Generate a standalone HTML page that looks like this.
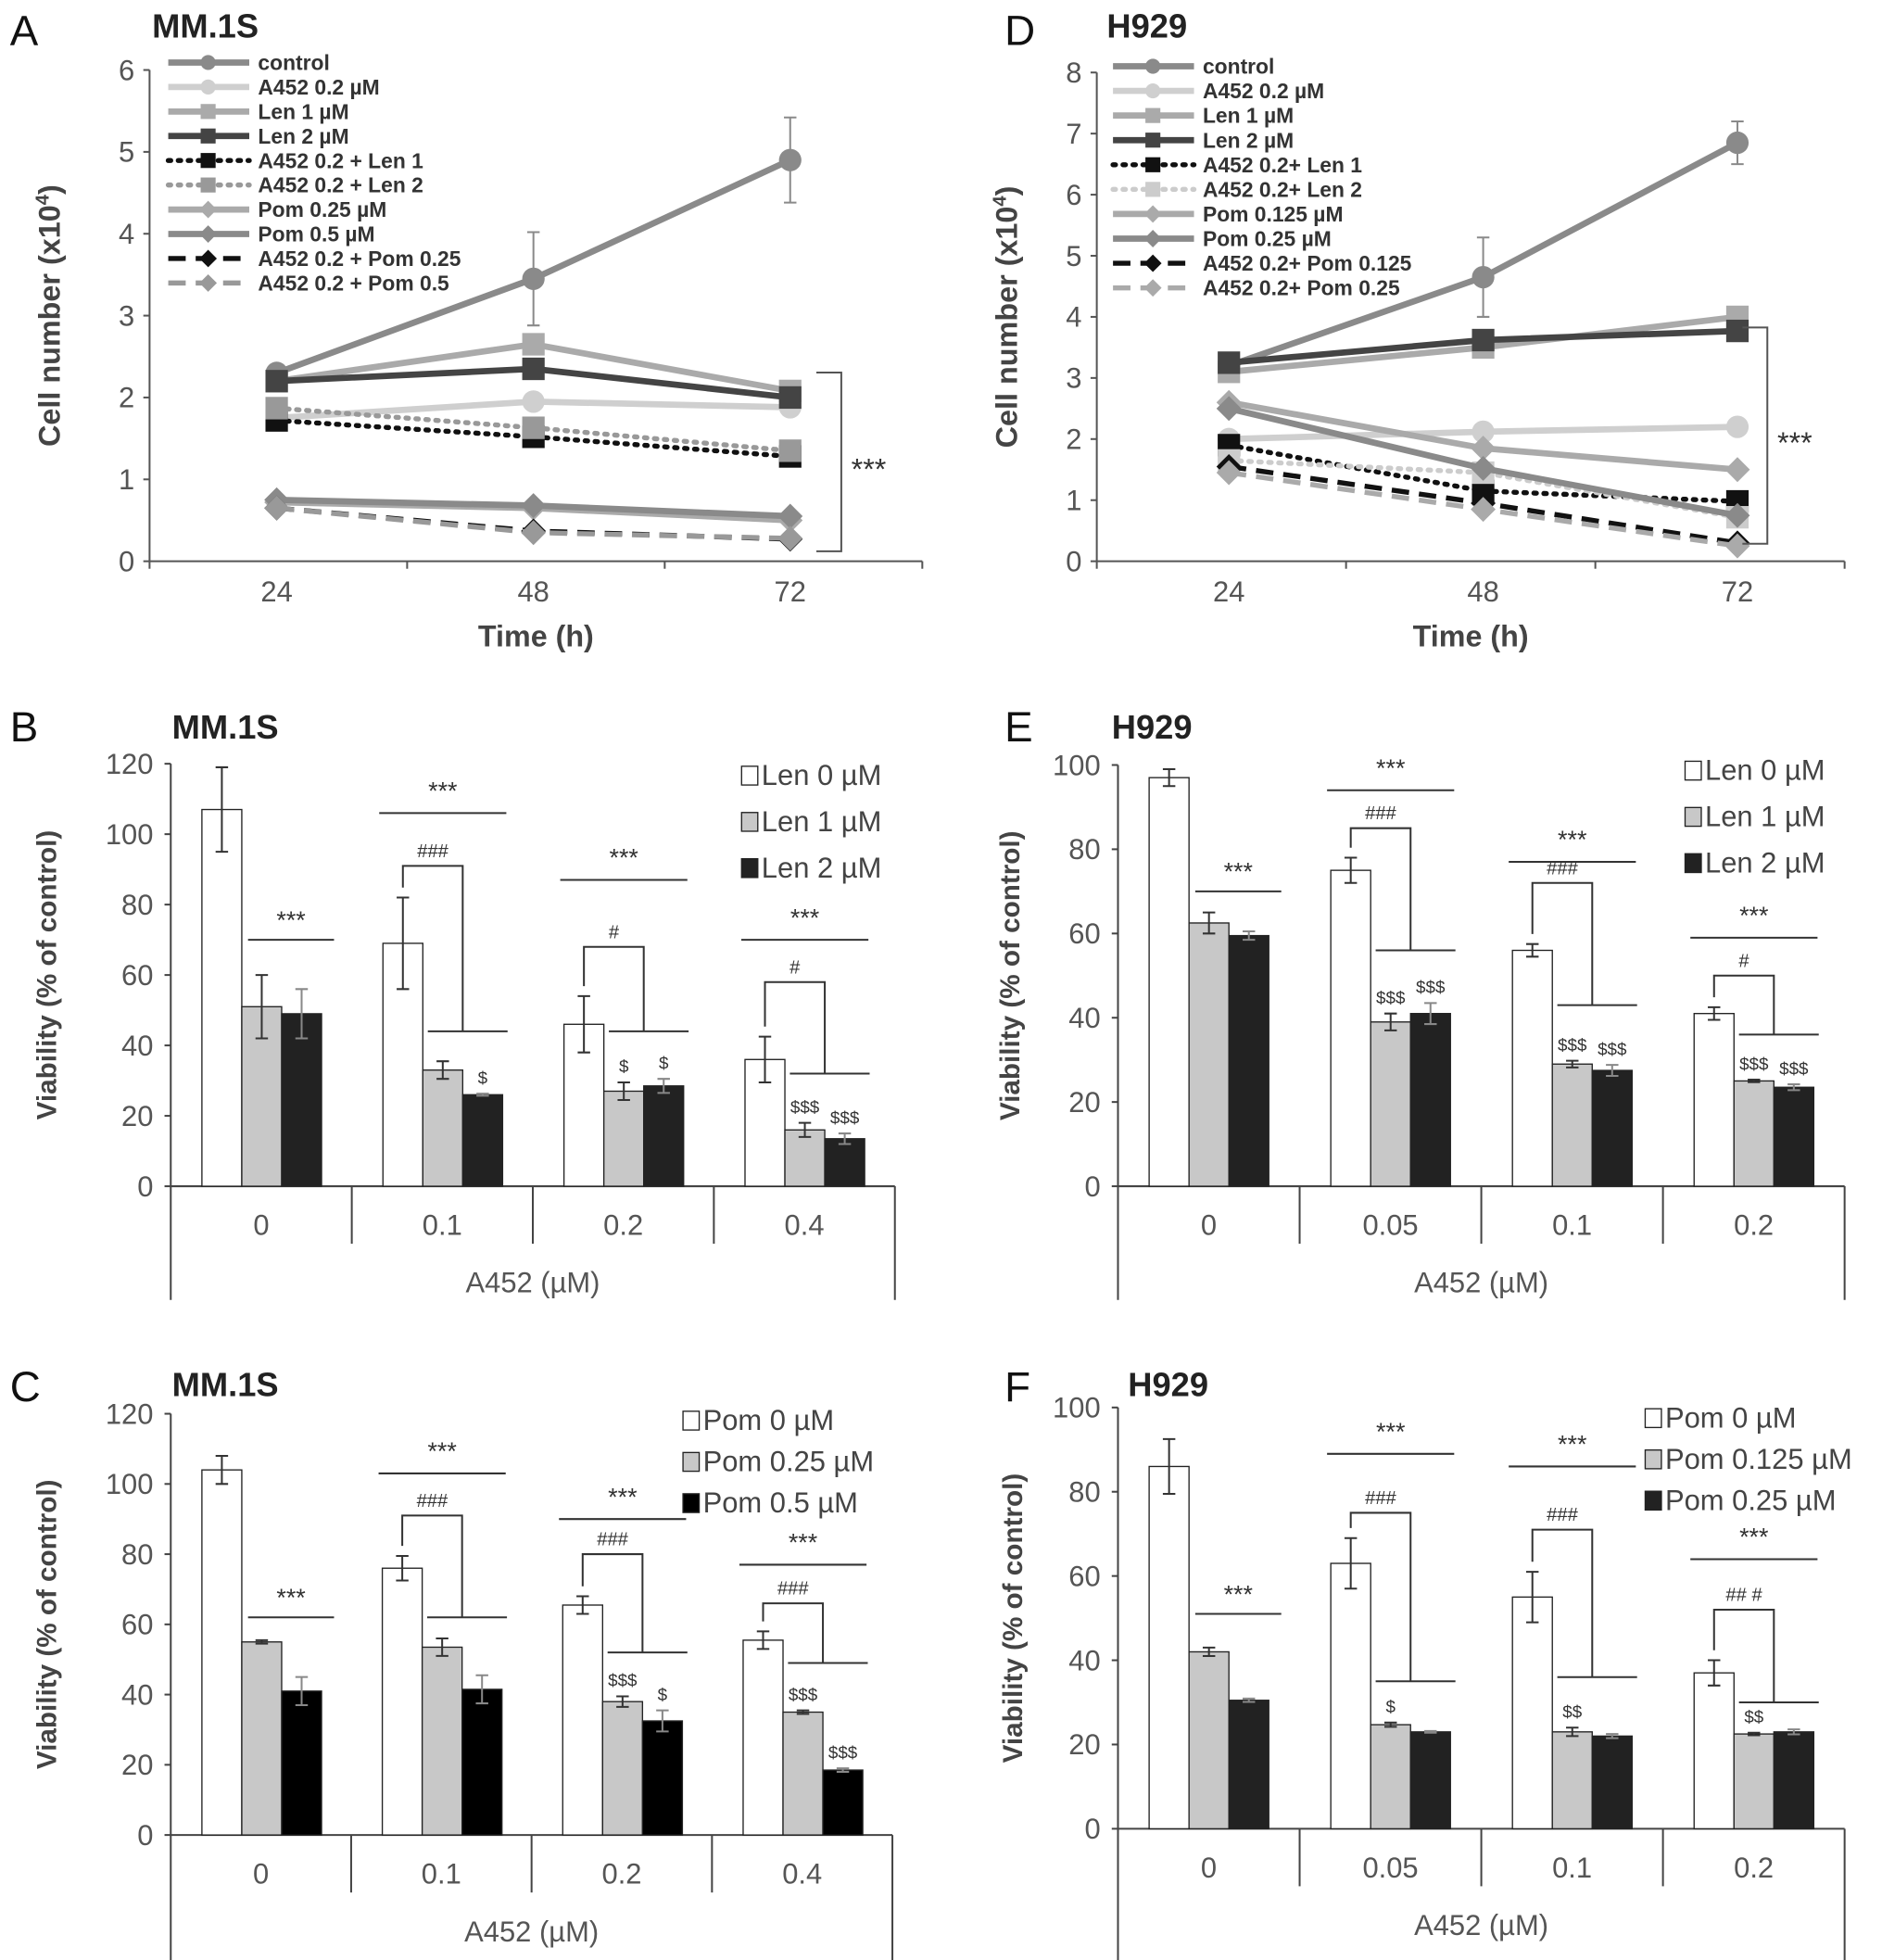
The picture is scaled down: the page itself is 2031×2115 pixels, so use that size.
<!DOCTYPE html>
<html><head><meta charset="utf-8">
<style>
html,body{margin:0;padding:0;background:#fff;}
svg{display:block;}
text{font-family:"Liberation Sans",sans-serif;}
</style></head>
<body>
<svg id="fig" width="2031" height="2115" viewBox="0 0 1510 1568" preserveAspectRatio="none" xmlns="http://www.w3.org/2000/svg">
<g id="root"></g>
</svg>
<script>
// ---------- Line chart data ----------
const timeCats = ['24','48','72'];
const aNames = ['control','A452 0.2 µM','Len 1 µM','Len 2 µM','A452 0.2 + Len 1','A452 0.2 + Len 2','Pom 0.25 µM','Pom 0.5 µM','A452 0.2 + Pom 0.25','A452 0.2 + Pom 0.5'];
const aControl = [2.3,3.45,4.9];
const aA452 = [1.75,1.95,1.88];
const aLen1 = [2.2,2.65,2.08];
const aLen2 = [2.2,2.35,2.0];
const aALen1 = [1.72,1.52,1.28];
const aALen2 = [1.87,1.63,1.35];
const aPom1 = [0.72,0.65,0.5];
const aPom2 = [0.75,0.68,0.55];
const aAPom1 = [0.65,0.37,0.27];
const aAPom2 = [0.65,0.35,0.28];
const aControlErr = [0.05,0.57,0.52];
const aYTicks = ['0','1','2','3','4','5','6'];

const dNames = ['control','A452 0.2 µM','Len 1 µM','Len 2 µM','A452 0.2+ Len 1','A452 0.2+ Len 2','Pom  0.125 µM','Pom  0.25 µM','A452 0.2+ Pom 0.125','A452 0.2+ Pom 0.25'];
const dControl = [3.2,4.65,6.85];
const dA452 = [2.0,2.12,2.2];
const dLen1 = [3.1,3.5,4.0];
const dLen2 = [3.25,3.62,3.77];
const dALen1 = [1.9,1.15,0.98];
const dALen2 = [1.65,1.45,0.72];
const dPom1 = [2.6,1.85,1.5];
const dPom2 = [2.5,1.52,0.75];
const dAPom1 = [1.55,0.95,0.3];
const dAPom2 = [1.45,0.85,0.25];
const dControlErr = [0.1,0.65,0.35];
const dYTicks = ['0','1','2','3','4','5','6','7','8'];

// ---------- Bar chart data ----------
const a452B = ['0','0.1','0.2','0.4'];
const bLen0 = [107,69,46,36];
const bLen1 = [51,33,27,16];
const bLen2 = [49,26,28.5,13.5];
const bLen0Err = [12,13,8,6.5];
const bLen1Err = [9,2.5,2.5,2];
const bLen2Err = [7,0.3,2,1.5];
const bYTicks = ['0','20','40','60','80','100','120'];

const a452C = ['0','0.1','0.2','0.4'];
const cPom0 = [104,76,65.5,55.5];
const cPom1 = [55,53.5,38,35];
const cPom2 = [41,41.5,32.5,18.5];
const cPom0Err = [4,3.5,2.5,2.5];
const cPom1Err = [0.5,2.5,1.5,0.5];
const cPom2Err = [4,4,3,0.5];
const cYTicks = ['0','20','40','60','80','100','120'];

const a452E = ['0','0.05','0.1','0.2'];
const eLen0 = [97,75,56,41];
const eLen1 = [62.5,39,29,25];
const eLen2 = [59.5,41,27.5,23.5];
const eLen0Err = [2,3,1.5,1.5];
const eLen1Err = [2.5,2,0.8,0.3];
const eLen2Err = [1,2.5,1.3,0.7];
const eYTicks = ['0','20','40','60','80','100'];

const a452F = ['0','0.05','0.1','0.2'];
const fPom0 = [86,63,55,37];
const fPom1 = [42,24.7,23,22.5];
const fPom2 = [30.5,23,22,23];
const fPom0Err = [6.5,6,6,3];
const fPom1Err = [1,0.5,1,0.3];
const fPom2Err = [0.4,0.2,0.5,0.6];
const fYTicks = ['0','20','40','60','80','100'];

const NS='http://www.w3.org/2000/svg';
const root=document.getElementById('root');
function mk(tag,attrs,parent,txt){const e=document.createElementNS(NS,tag);for(const k in attrs)e.setAttribute(k,attrs[k]);if(txt!==undefined)e.textContent=txt;(parent||root).appendChild(e);return e;}
function grp(name,parent){const g=document.createElementNS(NS,'g');


(parent||root).appendChild(g);return g;}
function txt(parent,x,y,s,attrs,name){const t=mk('text',Object.assign({x:x,y:y},attrs||{}),parent,s);


return t;}

function header(letter,lx,ly,title,tx,ty){
  const g=grp('panel-'+letter.toLowerCase()+'-header');
  txt(g,lx,ly,letter,{'font-size':34,fill:'#111'},'panel-letter');
  txt(g,tx,ty,title,{'font-size':27,'font-weight':'bold',fill:'#222'},'panel-title');
}

function lineChart(cfg){
  const g=grp(cfg.name);
  const ax=cfg.x0, y0=cfg.y0, yTop=cfg.yTop, ymax=cfg.yTicks.length-1;
  const ys=v=>y0-(v/ymax)*(y0-yTop);
  const xs=i=>cfg.xc[0]+i*(cfg.xc[1]-cfg.xc[0]);
  const axes=grp('axes',g);
  mk('line',{x1:ax,y1:yTop,x2:ax,y2:y0,stroke:'#555','stroke-width':1.5},axes);
  mk('line',{x1:ax,y1:y0,x2:cfg.xEnd,y2:y0,stroke:'#555','stroke-width':1.5},axes);
  cfg.yTicks.forEach((t,i)=>{const y=ys(+t);mk('line',{x1:ax-5,y1:y,x2:ax,y2:y,stroke:'#555','stroke-width':1.5},axes);
    txt(axes,ax-12,y+8,t,{'font-size':23,fill:'#555','text-anchor':'end'},'y-tick-label');});
  const step=(cfg.xEnd-ax)/3;
  for(let k=0;k<=3;k++){mk('line',{x1:ax+k*step,y1:y0,x2:ax+k*step,y2:y0+6,stroke:'#555','stroke-width':1.5},axes);}
  timeCats.forEach((c,i)=>txt(axes,xs(i),y0+32,c,{'font-size':23,fill:'#555','text-anchor':'middle'},'x-tick-label'));
  txt(axes,(ax+cfg.xEnd)/2,y0+68,'Time (h)',{'font-size':24,fill:'#444','text-anchor':'middle','font-weight':'bold'},'x-axis-title');
  const yl=txt(axes,0,0,'',{'font-size':24,fill:'#444','text-anchor':'middle','font-weight':'bold',transform:`translate(${cfg.yLabX},${(yTop+y0)/2}) rotate(-90)`},'y-axis-title');
  yl.textContent='Cell number (x10';mk('tspan',{'font-size':15,dy:-9},yl,'4');mk('tspan',{dy:9},yl,')');
  cfg.series.forEach((s,si)=>{
    const sg=grp('series-'+si,g);
    let d='';s.v.forEach((v,i)=>{d+=(i?'L':'M')+xs(i)+' '+ys(v);});
    mk('path',{d:d,fill:'none',stroke:s.c,'stroke-width':s.w||5,'stroke-dasharray':s.dash||'','stroke-linecap':s.dash==='2 6'?'round':'butt'},sg);
    if(s.err){s.v.forEach((v,i)=>{const e=s.err[i];mk('path',{d:`M${xs(i)} ${ys(v+e)}V${ys(v-e)}M${xs(i)-5} ${ys(v+e)}h10M${xs(i)-5} ${ys(v-e)}h10`,stroke:s.c,'stroke-width':1.5,fill:'none'},sg);});}
    s.v.forEach((v,i)=>marker(sg,s.m,xs(i),ys(v),s.mc||s.c,s.ms||9));
  });
  const lg=grp('legend',g);
  cfg.series.forEach((s,i)=>{
    const y=cfg.legY+i*cfg.legStep;const le=grp('legend-entry',lg);
    mk('line',{x1:cfg.legX,y1:y,x2:cfg.legX+65,y2:y,stroke:s.c,'stroke-width':s.w||5,'stroke-dasharray':s.dash||'','stroke-linecap':s.dash==='2 6'?'round':'butt'},le);
    marker(le,s.m,cfg.legX+32,y,s.mc||s.c,6);
    txt(le,cfg.legX+72,y+6,cfg.names[i],{'font-size':17,fill:'#333','font-weight':'bold'},'legend-label');
  });
  const bg=grp('significance-bracket',g);
  mk('path',{d:`M${cfg.br[0]} ${cfg.br[1]}H${cfg.br[0]+20}V${cfg.br[2]}H${cfg.br[0]}`,fill:'none',stroke:'#555','stroke-width':1.5},bg);
  txt(bg,cfg.br[0]+28,(cfg.br[1]+cfg.br[2])/2+14,'***',{'font-size':24,fill:'#333'},'significance-label');
}
function marker(p,m,x,y,c,r){
  if(m==='o')mk('circle',{cx:x,cy:y,r:r,fill:c},p);
  else if(m==='s')mk('rect',{x:x-r,y:y-r,width:2*r,height:2*r,fill:c},p);
  else mk('path',{d:`M${x} ${y-r-1}L${x+r+1} ${y}L${x} ${y+r+1}L${x-r-1} ${y}Z`,fill:c},p);
}

header('A',8,36,'MM.1S',122,30);
lineChart({name:'panel-a-line-chart',x0:120,y0:449,yTop:56,xEnd:740,xc:[222,428],yTicks:aYTicks,yLabX:48,names:aNames,legX:135,legY:50,legStep:19.6,br:[655,298,441],
 series:[
  {v:aControl,c:'#8a8a8a',m:'o',err:aControlErr},
  {v:aA452,c:'#cfcfcf',m:'o'},
  {v:aLen1,c:'#aaaaaa',m:'s'},
  {v:aLen2,c:'#444',m:'s'},
  {v:aALen1,c:'#111',m:'s',dash:'2 6',w:4},
  {v:aALen2,c:'#999',m:'s',dash:'2 6',w:4},
  {v:aPom1,c:'#aaaaaa',m:'d'},
  {v:aPom2,c:'#8a8a8a',m:'d'},
  {v:aAPom1,c:'#111',m:'d',dash:'14 8',w:4},
  {v:aAPom2,c:'#999',m:'d',dash:'14 8',w:4}
 ]});

header('D',806,36,'H929',888,30);
lineChart({name:'panel-d-line-chart',x0:880,y0:449,yTop:58,xEnd:1480,xc:[986,1190],yTicks:dYTicks,yLabX:816,names:dNames,legX:893,legY:53,legStep:19.7,br:[1398,262,435],
 series:[
  {v:dControl,c:'#8a8a8a',m:'o',err:dControlErr},
  {v:dA452,c:'#cfcfcf',m:'o'},
  {v:dLen1,c:'#aaaaaa',m:'s'},
  {v:dLen2,c:'#444',m:'s'},
  {v:dALen1,c:'#111',m:'s',dash:'2 6',w:4},
  {v:dALen2,c:'#ccc',m:'s',dash:'2 6',w:4},
  {v:dPom1,c:'#aaaaaa',m:'d'},
  {v:dPom2,c:'#8a8a8a',m:'d'},
  {v:dAPom1,c:'#111',m:'d',dash:'14 8',w:4},
  {v:dAPom2,c:'#aaa',m:'d',dash:'14 8',w:4}
 ]});

function barChart(cfg){
  const g=grp(cfg.name);
  const ax=cfg.x0,y0=cfg.y0,yTop=cfg.yTop,ymax=+cfg.yTicks[cfg.yTicks.length-1];
  const ys=v=>y0-(v/ymax)*(y0-yTop);
  const gw=(cfg.xEnd-ax)/4, bw=32;
  const bx=(gi,b)=>ax+gi*gw+25+b*bw;
  const axes=grp('axes',g);
  mk('line',{x1:ax,y1:yTop,x2:ax,y2:cfg.bottom,stroke:'#444','stroke-width':1.5},axes);
  mk('line',{x1:ax,y1:y0,x2:cfg.xEnd,y2:y0,stroke:'#444','stroke-width':1.5},axes);
  mk('line',{x1:cfg.xEnd,y1:y0,x2:cfg.xEnd,y2:cfg.bottom,stroke:'#444','stroke-width':1.5},axes);
  for(let k=1;k<4;k++)mk('line',{x1:ax+k*gw,y1:y0,x2:ax+k*gw,y2:y0+46,stroke:'#444','stroke-width':1.5},axes);
  cfg.yTicks.forEach(t=>{const y=ys(+t);mk('line',{x1:ax-5,y1:y,x2:ax,y2:y,stroke:'#444','stroke-width':1.5},axes);
    txt(axes,ax-14,y+8,t,{'font-size':23,fill:'#555','text-anchor':'end'},'y-tick-label');});
  cfg.cats.forEach((c,i)=>txt(axes,ax+i*gw+gw/2,y0+39,c,{'font-size':23,fill:'#555','text-anchor':'middle'},'x-tick-label'));
  txt(axes,(ax+cfg.xEnd)/2,y0+85,'A452 (µM)',{'font-size':23,fill:'#555','text-anchor':'middle'},'x-axis-title');
  txt(axes,0,0,'Viability (% of control)',{'font-size':22,fill:'#444','text-anchor':'middle','font-weight':'bold',transform:`translate(${cfg.yLabX},${(yTop+y0)/2}) rotate(-90)`},'y-axis-title');
  const fills=['#fff','#c8c8c8',cfg.dark];
  cfg.series.forEach((s,b)=>{
    const sg=grp('series-'+b,g);
    s.v.forEach((v,i)=>{
      const r=mk('rect',{x:bx(i,b),y:ys(v),width:bw,height:y0-ys(v),fill:fills[b],stroke:'#222','stroke-width':1},sg);
      
      
      const e=s.e[i],cx=bx(i,b)+bw/2;
      mk('path',{d:`M${cx} ${ys(v+e)}V${ys(Math.max(v-e,0))}M${cx-5} ${ys(v+e)}h10M${cx-5} ${ys(Math.max(v-e,0))}h10`,stroke:b===2?'#888':'#333','stroke-width':1.5,fill:'none'},sg);
    });
  });
  const lg=grp('legend',g);
  cfg.legNames.forEach((n,i)=>{const y=cfg.legY+i*cfg.legStep;const le=grp('legend-entry',lg);
    mk('rect',{x:cfg.legX,y:y-14,width:13,height:15,fill:fills[i],stroke:'#222','stroke-width':1},le);
    txt(le,cfg.legX+16,y+1,n,{'font-size':23,fill:'#444'},'legend-label');});
  const an=grp('significance-annotations',g);
  const A=cfg.ann;
  {const x1=bx(0,1)+5,x2=bx(0,2)+bw+10,y=ys(A.star0);
   mk('line',{x1:x1,y1:y,x2:x2,y2:y,stroke:'#333','stroke-width':1.5},an);
   txt(an,(x1+x2)/2,y-9,'***',{'font-size':20,fill:'#333','text-anchor':'middle'},'significance-label');}
  for(let i=1;i<4;i++){
    const sy=ys(A.star[i-1]),x1=bx(i,0)-3,x2=bx(i,2)+bw+3;
    mk('line',{x1:x1,y1:sy,x2:x2,y2:sy,stroke:'#333','stroke-width':1.5},an);
    txt(an,(x1+x2)/2,sy-11,'***',{'font-size':20,fill:'#333','text-anchor':'middle'},'significance-label');
    const wc=bx(i,0)+bw/2,hy=ys(A.hash[i-1]),ly=ys(A.low[i-1]),wt=ys(cfg.series[0].v[i]+cfg.series[0].e[i])-8,hx=bx(i,2);
    mk('path',{d:`M${wc} ${wt}V${hy}H${hx}V${ly}`,fill:'none',stroke:'#333','stroke-width':1.5},an);
    mk('line',{x1:bx(i,1)+4,y1:ly,x2:bx(i,2)+bw+4,y2:ly,stroke:'#333','stroke-width':1.5},an);
    txt(an,(wc+hx)/2,hy-7,A.hashLab[i-1],{'font-size':15,fill:'#333','text-anchor':'middle'},'significance-label');
    [1,2].forEach(b=>{const lab=A.dol[(i-1)*2+b-1];if(!lab)return;const s=cfg.series[b];
      txt(an,bx(i,b)+bw/2,ys(s.v[i]+s.e[i])-8,lab,{'font-size':14,fill:'#333','text-anchor':'middle'},'significance-label');});
  }
}

header('B',8,593,'MM.1S',138,591);
barChart({name:'panel-b-bar-chart',x0:137,y0:949,yTop:611,xEnd:718,bottom:1040,cats:a452B,yTicks:bYTicks,yLabX:45,dark:'#222',
 series:[{v:bLen0,e:bLen0Err},{v:bLen1,e:bLen1Err},{v:bLen2,e:bLen2Err}],
 legNames:['Len  0 µM','Len 1 µM','Len 2 µM'],legX:595,legY:627,legStep:37,
 ann:{star0:70,star:[106,87,70],hash:[91,68,58],low:[44,44,32],hashLab:['###','#','#'],dol:['','$','$','$','$$$','$$$']}});

header('C',8,1121,'MM.1S',138,1117);
barChart({name:'panel-c-bar-chart',x0:137,y0:1468,yTop:1131,xEnd:716,bottom:1568,cats:a452C,yTicks:cYTicks,yLabX:45,dark:'#000',
 series:[{v:cPom0,e:cPom0Err},{v:cPom1,e:cPom1Err},{v:cPom2,e:cPom2Err}],
 legNames:['Pom  0 µM','Pom 0.25 µM','Pom 0.5 µM'],legX:548,legY:1143,legStep:33,
 ann:{star0:62,star:[103,90,77],hash:[91,80,66],low:[62,52,49],hashLab:['###','###','###'],dol:['','','$$$','$','$$$','$$$']}});

header('E',806,593,'H929',892,591);
barChart({name:'panel-e-bar-chart',x0:897,y0:949,yTop:612,xEnd:1480,bottom:1040,cats:a452E,yTicks:eYTicks,yLabX:818,dark:'#222',
 series:[{v:eLen0,e:eLen0Err},{v:eLen1,e:eLen1Err},{v:eLen2,e:eLen2Err}],
 legNames:['Len 0 µM','Len 1 µM','Len 2 µM'],legX:1352,legY:623,legStep:37,
 ann:{star0:70,star:[94,77,59],hash:[85,72,50],low:[56,43,36],hashLab:['###','###','#'],dol:['$$$','$$$','$$$','$$$','$$$','$$$']}});

header('F',806,1121,'H929',905,1117);
barChart({name:'panel-f-bar-chart',x0:897,y0:1463,yTop:1126,xEnd:1480,bottom:1568,cats:a452F,yTicks:fYTicks,yLabX:820,dark:'#222',
 series:[{v:fPom0,e:fPom0Err},{v:fPom1,e:fPom1Err},{v:fPom2,e:fPom2Err}],
 legNames:['Pom 0 µM','Pom 0.125 µM','Pom 0.25 µM'],legX:1320,legY:1141,legStep:33,
 ann:{star0:51,star:[89,86,64],hash:[75,71,52],low:[35,36,30],hashLab:['###','###','## #'],dol:['$','','$$','','$$','']}});
</script>
</body></html>
